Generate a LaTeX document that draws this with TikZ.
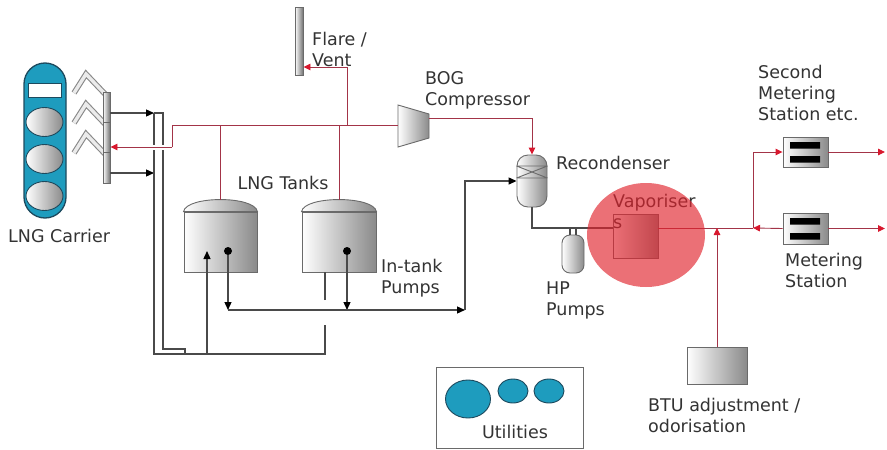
\documentclass[tikz,border=0pt]{standalone}
\usepackage{fontspec}
\setmainfont{DejaVu Sans}
\usetikzlibrary{arrows.meta,shapes.geometric,calc}

\definecolor{pipegrey}{HTML}{4A4A4A}
\definecolor{gasred}{HTML}{A33448}
\definecolor{tipred}{HTML}{D8182E}
\definecolor{inktext}{HTML}{333333}
\definecolor{shipteal}{HTML}{1E9CBE}
\definecolor{shipedge}{HTML}{1D4A5E}
\definecolor{steel}{HTML}{8A8A8A}
\definecolor{rim}{HTML}{6A6A6A}
\definecolor{hotspot}{HTML}{E1232D}

\tikzset{
  pipe/.style={draw=pipegrey, line width=1.3pt},
  gas/.style={draw=gasred, line width=0.9pt},
  flowtip/.style={-{Triangle[length=8pt,width=7pt,color=black]}},
  gastip/.style={-{Triangle[length=7pt,width=6.5pt,color=tipred]}},
  metal/.style={draw=rim, line width=0.9pt, left color=white, right color=steel},
  lbl/.style={font=\fontsize{17.5}{21}\selectfont, text=inktext, align=left, inner sep=0pt, anchor=west},
  chev/.style={draw=rim!80, double=black!8, double distance=3.4pt, line width=1.1pt, line join=miter},
  blob/.style={ellipse, fill=shipteal, draw=shipedge, line width=0.9pt, inner sep=0pt},
  bulb/.style={ellipse, draw=shipedge, line width=0.9pt, left color=white, right color=steel, inner sep=0pt,
               minimum width=37pt, minimum height=29pt},
}

\begin{document}
\begin{tikzpicture}[x=1pt, y=-1pt]
\useasboundingbox (0,0) rectangle (887,450);

% ---------- LNG carrier ----------
\node[draw=shipedge, line width=1.3pt, fill=shipteal, rounded corners=21pt,
      minimum width=42pt, minimum height=155pt, inner sep=0pt] (carrier) at (45,140.5) {};
\node[draw=shipedge, line width=0.9pt, fill=white, minimum width=33pt, minimum height=14pt, inner sep=0pt]
      (bridge) at (44.5,90) {};
\node[bulb] (hold1) at (44.5,122) {};
\node[bulb] (hold2) at (44.5,159) {};
\node[bulb] (hold3) at (44.5,196) {};
\node[lbl] (carrierlbl) at (8,236) {LNG Carrier};

% loading arms
\draw[chev] (74,93)  -- (86,74)  -- (106,95);
\draw[chev] (74,123) -- (86,104) -- (106,125);
\draw[chev] (74,153) -- (86,134) -- (106,155);
\node[metal, right color=black!55, minimum width=7pt, minimum height=36pt, inner sep=0pt] (arm1) at (106.5,110) {};
\node[metal, right color=black!55, minimum width=7pt, minimum height=35pt, inner sep=0pt] (arm2) at (106.5,140) {};
\node[metal, right color=black!55, minimum width=7pt, minimum height=31pt, inner sep=0pt] (arm3) at (106.5,168) {};

% ---------- LNG tanks ----------
\node[metal, minimum width=73pt, minimum height=60pt, inner sep=0pt] (tank1) at (220.5,242) {};
\node[metal, minimum width=74pt, minimum height=60pt, inner sep=0pt] (tank2) at (339,242) {};
\path[metal] (tank1.north west) .. controls +(3,-16) and +(-3,-16) .. (tank1.north east) -- cycle;
\path[metal] (tank2.north west) .. controls +(3,-16) and +(-3,-16) .. (tank2.north east) -- cycle;
\coordinate (t1top) at ($(tank1.north)+(0,-12)$);
\coordinate (t2top) at ($(tank2.north)+(0,-12)$);
\node[circle, fill=black, inner sep=0pt, minimum size=8pt] (pump1) at (228,251) {};
\node[circle, fill=black, inner sep=0pt, minimum size=8pt] (pump2) at (347,251) {};
\node[lbl, anchor=center] (tankslbl) at (283,183) {LNG Tanks};
\node[lbl] (intanklbl) at (381,278) {In-tank\\Pumps};

% ---------- flare, compressor ----------
\node[metal, right color=black!55, minimum width=8pt, minimum height=68pt, inner sep=0pt] (flare) at (299,41) {};
\node[lbl] (flarelbl) at (312,49) {Flare /\\Vent};
\path[metal] (398,105) -- (429,114) -- (429,138) -- (398,147) -- cycle;
\coordinate (comp-in) at (398,125);
\coordinate (comp-out) at (429,118);
\node[lbl] (complbl) at (425,90) {BOG\\Compressor};

% ---------- recondenser, HP pumps, vaporiser ----------
\node[metal, rounded corners=11pt, minimum width=30pt, minimum height=52pt, inner sep=0pt] (recond) at (532,181) {};
\draw[draw=rim, line width=0.9pt] (recond.west |- 0,166) -- (recond.east |- 0,166)
      (recond.west |- 0,178) -- (recond.east |- 0,178)
      (recond.west |- 0,166) -- (recond.east |- 0,178)
      (recond.west |- 0,178) -- (recond.east |- 0,166);
\node[lbl] (recondlbl) at (556,163) {Recondenser};

\node[metal, rounded corners=8pt, minimum width=22pt, minimum height=38pt, inner sep=0pt] (hppump) at (573,254) {};
\node[lbl] (hplbl) at (546,300) {HP\\Pumps};

\node[metal, minimum width=45pt, minimum height=44pt, inner sep=0pt] (vap) at (635.5,236) {};
\node[lbl] (vaplbl) at (613,211) {Vaporiser\\s};

% ---------- metering, BTU, utilities ----------
\node[metal, minimum width=45pt, minimum height=30pt, inner sep=0pt] (meter2) at (805.5,152) {};
\node[metal, minimum width=45pt, minimum height=31pt, inner sep=0pt] (meter1) at (805.5,228.5) {};
\fill[black] (790,142) rectangle (820,148.5) (790,156) rectangle (820,162.5);
\fill[black] (790,218) rectangle (820,224.5) (790,233) rectangle (820,239.5);
\node[lbl] (meter2lbl) at (758,93) {Second\\Metering\\Station etc.};
\node[lbl] (meter1lbl) at (785,270) {Metering\\Station};

\node[metal, minimum width=60pt, minimum height=37pt, inner sep=0pt] (btu) at (717,365.5) {};
\node[lbl] (btulbl) at (648,415) {BTU adjustment /\\odorisation};

\node[draw=rim, line width=1pt, minimum width=147pt, minimum height=81pt, inner sep=0pt] (utilbox) at (509.5,408) {};
\node[blob, minimum width=45pt, minimum height=38pt] (util1) at (468,399) {};
\node[blob, minimum width=30pt, minimum height=24pt] (util2) at (513,391) {};
\node[blob, minimum width=30pt, minimum height=24pt] (util3) at (549,391) {};
\node[lbl, anchor=center] (utillbl) at (515,432) {Utilities};

% ---------- liquid lines ----------
\coordinate (outer-top) at (154,113);
\coordinate (inner-top) at (163,113);
\coordinate (load3) at (154,173);
\coordinate (ret) at (325,354);
\coordinate (feed) at (207,354);
\coordinate (send) at (465,310);

\draw[pipe, flowtip] (arm1.east |- outer-top) -- (outer-top);
\draw[pipe, flowtip] (arm3.east |- load3) -- (load3);
\draw[pipe] (outer-top) -- (inner-top) -- (163,349) -- (185,349) -- (185,354);
\draw[pipe] (outer-top) -- (154,354) -- (ret) -- (325,325);
\draw[pipe] (325,300) -- (ret |- tank2.south);
\draw[pipe, flowtip] (feed) -- (feed |- pump1);
\draw[pipe, flowtip] (pump1) -- (pump1 |- send);
\draw[pipe, flowtip] (pump2) -- (pump2 |- send);
\draw[pipe, flowtip] (pump1 |- send) -- (send);
\draw[pipe, flowtip] (send) |- (recond.west);

\coordinate (hp-tee) at (573,228);
\draw[pipe] (recond.south) |- (hp-tee) -- ($(vap.west)+(0,-8)$);
\draw[pipe] (570,228) -- (570,235) (576,228) -- (576,235);

% ---------- gas lines ----------
\coordinate (hdr-w) at (172,125);
\coordinate (hdr-drop) at (172,147);
\coordinate (flare-tee) at (347,125);
\coordinate (flare-bend) at (347,67);
\coordinate (sendout) at (753,228);
\coordinate (edge) at (885,0);

\draw[gas] (comp-in) -- (hdr-w) -- (hdr-drop);
\draw[gas, gastip, preaction={draw=white, line width=5pt, -, shorten <=3pt, shorten >=38pt}]
      (hdr-drop) -- (arm2.east |- hdr-drop);
\draw[gas] (t1top) -- (t1top |- hdr-w);
\draw[gas] (t2top) -- (t2top |- hdr-w);
\draw[gas, gastip] (flare-tee) -- (flare-bend) -- (flare-bend -| flare.east);
\draw[gas, gastip] (comp-out) -| (recond.north);

\draw[gas] ($(vap.east)+(0,-8)$) -- (sendout);
\draw[gas, gastip] (meter1.west) -- (sendout);
\draw[gas, gastip] (sendout) |- (meter2.west);
\draw[gas, gastip] (meter2.east) -- (meter2.east -| edge);
\draw[gas, gastip] (meter1.east) -- (meter1.east -| edge);
\draw[gas, gastip] (btu.north) -- (btu.north |- sendout);

% highlight over the vaporiser
\fill[hotspot, fill opacity=0.65] (646,235) ellipse [x radius=59, y radius=52];

\end{tikzpicture}
\end{document}
